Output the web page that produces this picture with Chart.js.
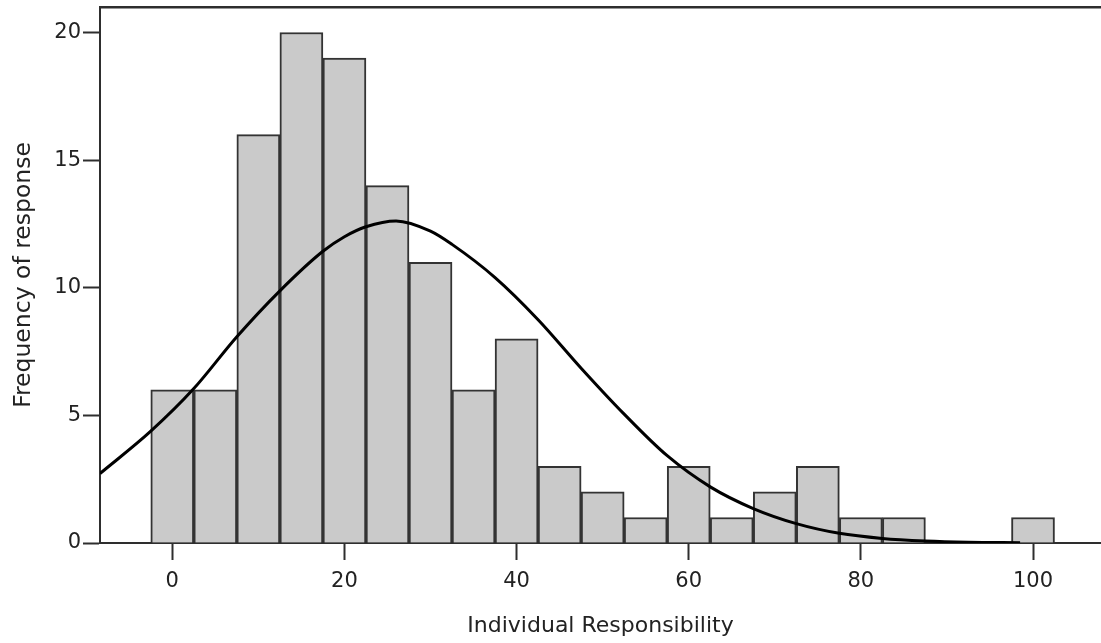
<!DOCTYPE html>
<html>
<head>
<meta charset="utf-8">
<title>Individual Responsibility</title>
<script src="https://cdn.jsdelivr.net/npm/chart.js@4.4.1/dist/chart.umd.min.js"></script>
<style>
  html, body { margin: 0; padding: 0; background: #fff; }
  canvas { display: block; }
</style>
</head>
<body>
<canvas id="histogram" width="1101" height="643"></canvas>
<script>
// histogram bins (width 5), centred on these values
const binCenters = [0, 5, 10, 15, 20, 25, 30, 35, 40, 45, 50, 55, 60, 65, 70, 75, 80, 85, 90, 95, 100];
const frequencies = [6, 6, 16, 20, 19, 14, 11, 6, 8, 3, 2, 1, 3, 1, 2, 3, 1, 1, 0, 0, 1];

// fitted normal curve, sampled along x
const curveX = [-8.4, -2.5, 2.5, 7.5, 12.5, 17.5, 20, 22.5, 26, 30, 32.5, 37.5, 42.5, 47.5, 52.5, 57.5, 62.5, 67.5, 72.5, 77.5, 82.5, 87.5, 92.5, 98.5];
const curveY = [2.72, 4.38, 6.05, 8.08, 9.88, 11.43, 12.0, 12.39, 12.62, 12.22, 11.7, 10.4, 8.75, 6.85, 5.05, 3.42, 2.2, 1.35, 0.76, 0.38, 0.18, 0.08, 0.03, 0.01];

const xTicks = [0, 20, 40, 60, 80, 100];
const yTicks = [0, 5, 10, 15, 20];

const axisColor = '#2e2e2e';
const textColor = '#222222';

Chart.defaults.font.family = "'DejaVu Sans', Verdana, sans-serif";
Chart.defaults.color = textColor;

const toPoints = (xs, ys) => xs.map((x, i) => ({ x: x, y: ys[i] }));

const setTicks = (values) => (scale) => {
  scale.ticks = values.map((v) => ({ value: v }));
};

const chart = new Chart('histogram', {
  type: 'bar',
  data: {
    datasets: [
      {
        type: 'line',
        data: toPoints(curveX, curveY),
        borderColor: '#000000',
        borderWidth: 3,
        pointRadius: 0,
        fill: false,
        cubicInterpolationMode: 'monotone',
        order: 0,
      },
      {
        type: 'bar',
        data: toPoints(binCenters, frequencies),
        backgroundColor: '#cacaca',
        borderColor: '#333333',
        borderWidth: 2,
        borderSkipped: 'start',
        barPercentage: 1,
        categoryPercentage: 1,
        order: 1,
      },
    ],
  },
  options: {
    responsive: false,
    animation: false,
    layout: { padding: { top: 7, left: 0, right: 0, bottom: 0 } },
    plugins: {
      legend: { display: false },
      tooltip: { enabled: false },
    },
    scales: {
      x: {
        type: 'linear',
        position: 'bottom',
        min: -8.4,
        max: 107.9,
        offset: false,
        afterBuildTicks: setTicks(xTicks),
        afterFit: (scale) => {
          scale.height = 100;
          scale.paddingLeft = 0;
          scale.paddingRight = 0;
        },
        border: { display: true, color: axisColor, width: 2 },
        grid: {
          offset: false,
          drawOnChartArea: false,
          drawTicks: true,
          tickLength: 17,
          tickWidth: 2,
          tickColor: axisColor,
        },
        ticks: {
          font: { size: 21 },
          padding: 9,
          maxRotation: 0,
        },
        title: {
          display: true,
          text: 'Individual Responsibility',
          font: { size: 22 },
          padding: { top: 0, bottom: 4 },
        },
      },
      x2: {
        type: 'linear',
        position: 'top',
        min: 0,
        max: 1,
        afterFit: (scale) => { scale.height = 0; },
        border: { display: true, color: axisColor, width: 2.5 },
        grid: { display: false, drawTicks: false },
        ticks: { display: false },
      },
      y: {
        type: 'linear',
        min: 0,
        max: 21,
        afterBuildTicks: setTicks(yTicks),
        afterFit: (scale) => {
          // keep the plot top fixed, the "20" label sits well inside it
          scale.width = 100;
          scale.paddingTop = 0;
          scale.paddingBottom = 0;
        },
        border: { display: true, color: axisColor, width: 2 },
        grid: {
          drawOnChartArea: false,
          drawTicks: true,
          tickLength: 17,
          tickWidth: 2,
          tickColor: axisColor,
        },
        ticks: {
          font: { size: 21 },
          padding: 2,
        },
        title: {
          display: true,
          text: 'Frequency of response',
          font: { size: 23.5 },
          padding: { top: 10, bottom: 0 },
        },
      },
    },
  },
});
</script>
</body>
</html>
